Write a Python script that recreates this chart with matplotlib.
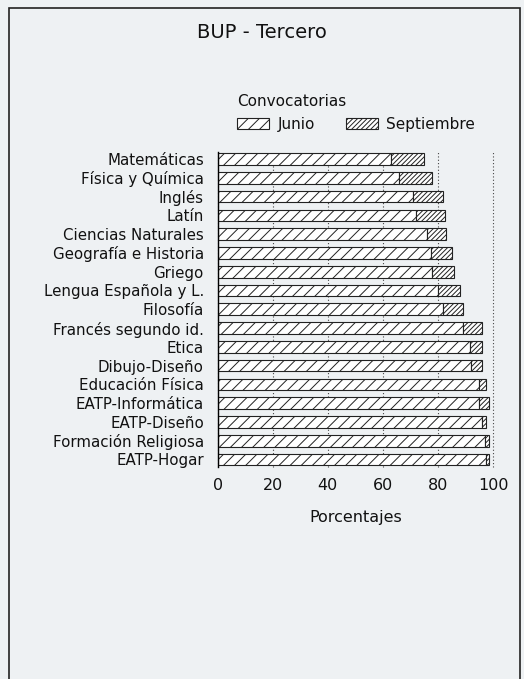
import matplotlib
matplotlib.use("Agg")
import matplotlib.pyplot as plt
from matplotlib.patches import Rectangle

categories = ["Matemáticas", "Física y Química", "Inglés", "Latín",
              "Ciencias Naturales", "Geografía e Historia", "Griego",
              "Lengua Española y L.", "Filosofía", "Francés segundo id.",
              "Etica", "Dibujo-Diseño", "Educación Física", "EATP-Informática",
              "EATP-Diseño", "Formación Religiosa", "EATP-Hogar"]
junio = [63, 66, 71, 72, 76, 77.5, 78, 80, 82, 89, 91.5, 92, 95, 95, 96, 97, 97.5]
septiembre = [12, 12, 11, 10.5, 7, 7.5, 8, 8, 7, 7, 4.5, 4, 2.5, 3.5, 1.5, 1.5, 1]
xticks = [0, 20, 40, 60, 80, 100]

bg = "#eef1f3"
ink = "#111111"
plt.rcParams["font.family"] = ["DejaVu Sans"]
plt.rcParams["hatch.linewidth"] = 0.7
plt.rcParams["hatch.color"] = "#222222"
plt.rcParams["text.color"] = ink

W, H = 524, 679
fig = plt.figure(figsize=(W / 100, H / 100), dpi=100, facecolor=bg)
ax = fig.add_axes([217.7 / W, 1 - 467 / H, (493 - 217.7) / W, (467 - 151.5) / H])
ax.set_facecolor("none")

y = list(range(len(categories)))
b1 = ax.barh(y, junio, height=0.62, color="white", edgecolor="#222222",
             linewidth=0.8, hatch="///", zorder=3, label="Junio")
b2 = ax.barh(y, septiembre, left=junio, height=0.62, color="white",
             edgecolor="#222222", linewidth=0.8, hatch="///////", zorder=3,
             label="Septiembre")

ax.set_xlim(0, 100)
ax.set_ylim(16.4, -0.4)
ax.set_yticks(y)
ax.set_yticklabels(categories, fontsize=10.8, color=ink)
ax.set_xticks(xticks)
ax.set_xticklabels([str(t) for t in xticks], fontsize=11.5, color=ink)
ax.tick_params(axis="y", length=0, pad=10)
ax.tick_params(axis="x", length=0, pad=8)
for s in ["top", "right", "bottom"]:
    ax.spines[s].set_visible(False)
ax.spines["left"].set_linewidth(1.0)
ax.spines["left"].set_zorder(4)
ax.xaxis.grid(True, linestyle=(0, (1, 2)), color="#444444", linewidth=0.8, zorder=0)
for gl in ax.get_xgridlines():
    gl.set_clip_on(False)

ax.set_xlabel("Porcentajes", fontsize=11.5, labelpad=12, color=ink)

fig.text(262 / W, 1 - 32 / H, "BUP - Tercero", fontsize=14, ha="center", va="center")

leg = fig.legend(handles=[b1, b2], labels=["Junio", "Septiembre"], ncol=2,
                 loc="upper left", bbox_to_anchor=(225 / W, 1 - 82 / H),
                 frameon=False, title="Convocatorias", title_fontsize=11,
                 fontsize=11, handlelength=2.1, handleheight=0.8,
                 handletextpad=0.55, columnspacing=2.0, alignment="left",
                 borderpad=0.3)

fig.add_artist(Rectangle((9 / W, -0.05), (520 - 9) / W, 1.05 - 8 / H,
                         transform=fig.transFigure, fill=False,
                         edgecolor="#222222", linewidth=1.2, clip_on=False))

fig.savefig("out.png", dpi=100, facecolor=bg)
